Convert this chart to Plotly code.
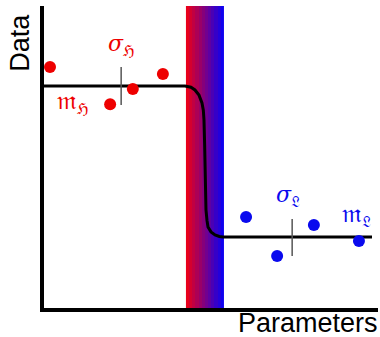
import plotly.graph_objects as go

# Data
red_x = [0.18, 1.98, 2.66, 3.56]
red_y = [7.98, 6.75, 7.25, 7.75]
blue_x = [6.05, 6.98, 8.08, 9.43]
blue_y = [3.01, 1.72, 2.75, 2.22]
curve_x = [0.0, 4.22, 4.40, 4.52, 4.64, 4.73, 4.77, 4.79, 4.81, 4.82, 4.84, 4.85, 4.88, 4.91, 5.00, 5.12, 5.25, 5.36, 9.82]
curve_y = [7.35, 7.35, 7.31, 7.22, 7.05, 6.79, 6.55, 6.23, 5.40, 4.57, 3.80, 3.25, 2.90, 2.68, 2.52, 2.42, 2.37, 2.35, 2.35]
band_x0, band_x1 = 4.25, 5.39
red_tick_x, red_tick_y = 2.31, [7.98, 6.72]
blue_tick_x, blue_tick_y = 7.43, [2.95, 1.72]
band_steps = 12

RED = "#ee0000"
BLUE = "#0a0aee"

fig = go.Figure()

# gradient band
step = (band_x1 - band_x0) / band_steps
hx = [band_x0 + step * (i + 0.5) for i in range(band_steps)]
fig.add_trace(go.Heatmap(
    x=hx, y=[0, 10], z=[list(range(band_steps)), list(range(band_steps))],
    colorscale=[[0, "#e8001c"], [1, "#0f00ee"]], showscale=False,
    zsmooth=False, hoverinfo="skip", xgap=0, ygap=0))

fig.add_trace(go.Scatter(x=curve_x, y=curve_y, mode="lines",
                         line=dict(color="black", width=3), hoverinfo="skip"))
fig.add_trace(go.Scatter(x=[red_tick_x, red_tick_x], y=red_tick_y, mode="lines",
                         line=dict(color="#555555", width=1.5)))
fig.add_trace(go.Scatter(x=[blue_tick_x, blue_tick_x], y=blue_tick_y, mode="lines",
                         line=dict(color="#555555", width=1.5)))
fig.add_trace(go.Scatter(x=red_x, y=red_y, mode="markers",
                         marker=dict(color=RED, size=12)))
fig.add_trace(go.Scatter(x=blue_x, y=blue_y, mode="markers",
                         marker=dict(color=BLUE, size=12)))

lab_font = dict(family="DejaVu Serif", size=22)
fig.add_annotation(x=2.31, y=8.7, text="<i>σ</i><sub>ℌ</sub>", showarrow=False,
                   font=dict(color=RED, **lab_font))
fig.add_annotation(x=0.85, y=6.85, text="<span style='font-size:26px'>𝔪</span><sub>ℌ</sub>", showarrow=False,
                   font=dict(color=RED, **lab_font))
fig.add_annotation(x=7.30, y=3.70, text="<i>σ</i><sub>𝔏</sub>", showarrow=False,
                   font=dict(color=BLUE, **lab_font))
fig.add_annotation(x=9.35, y=3.10, text="<span style='font-size:26px'>𝔪</span><sub>𝔏</sub>", showarrow=False,
                   font=dict(color=BLUE, **lab_font))

fig.add_annotation(xref="paper", yref="paper", x=-0.073, y=0.98, xanchor="center",
                   yanchor="top", text="Data", textangle=-90, showarrow=False,
                   font=dict(family="Liberation Sans", size=27, color="black"))
fig.add_annotation(xref="paper", yref="paper", x=1.005, y=-0.105, xanchor="right",
                   yanchor="bottom", text="Parameters", showarrow=False,
                   font=dict(family="Liberation Sans", size=27, color="black"))

fig.update_xaxes(range=[0, 10], showgrid=False, zeroline=False, showticklabels=False,
                 ticks="", showline=True, linecolor="black", linewidth=4)
fig.update_yaxes(range=[0, 10], showgrid=False, zeroline=False, showticklabels=False,
                 ticks="", showline=True, linecolor="black", linewidth=4)
fig.update_layout(width=380, height=337, margin=dict(l=44, r=2, t=6, b=29),
                  plot_bgcolor="white", paper_bgcolor="white", showlegend=False)

fig.write_html("out.html")
